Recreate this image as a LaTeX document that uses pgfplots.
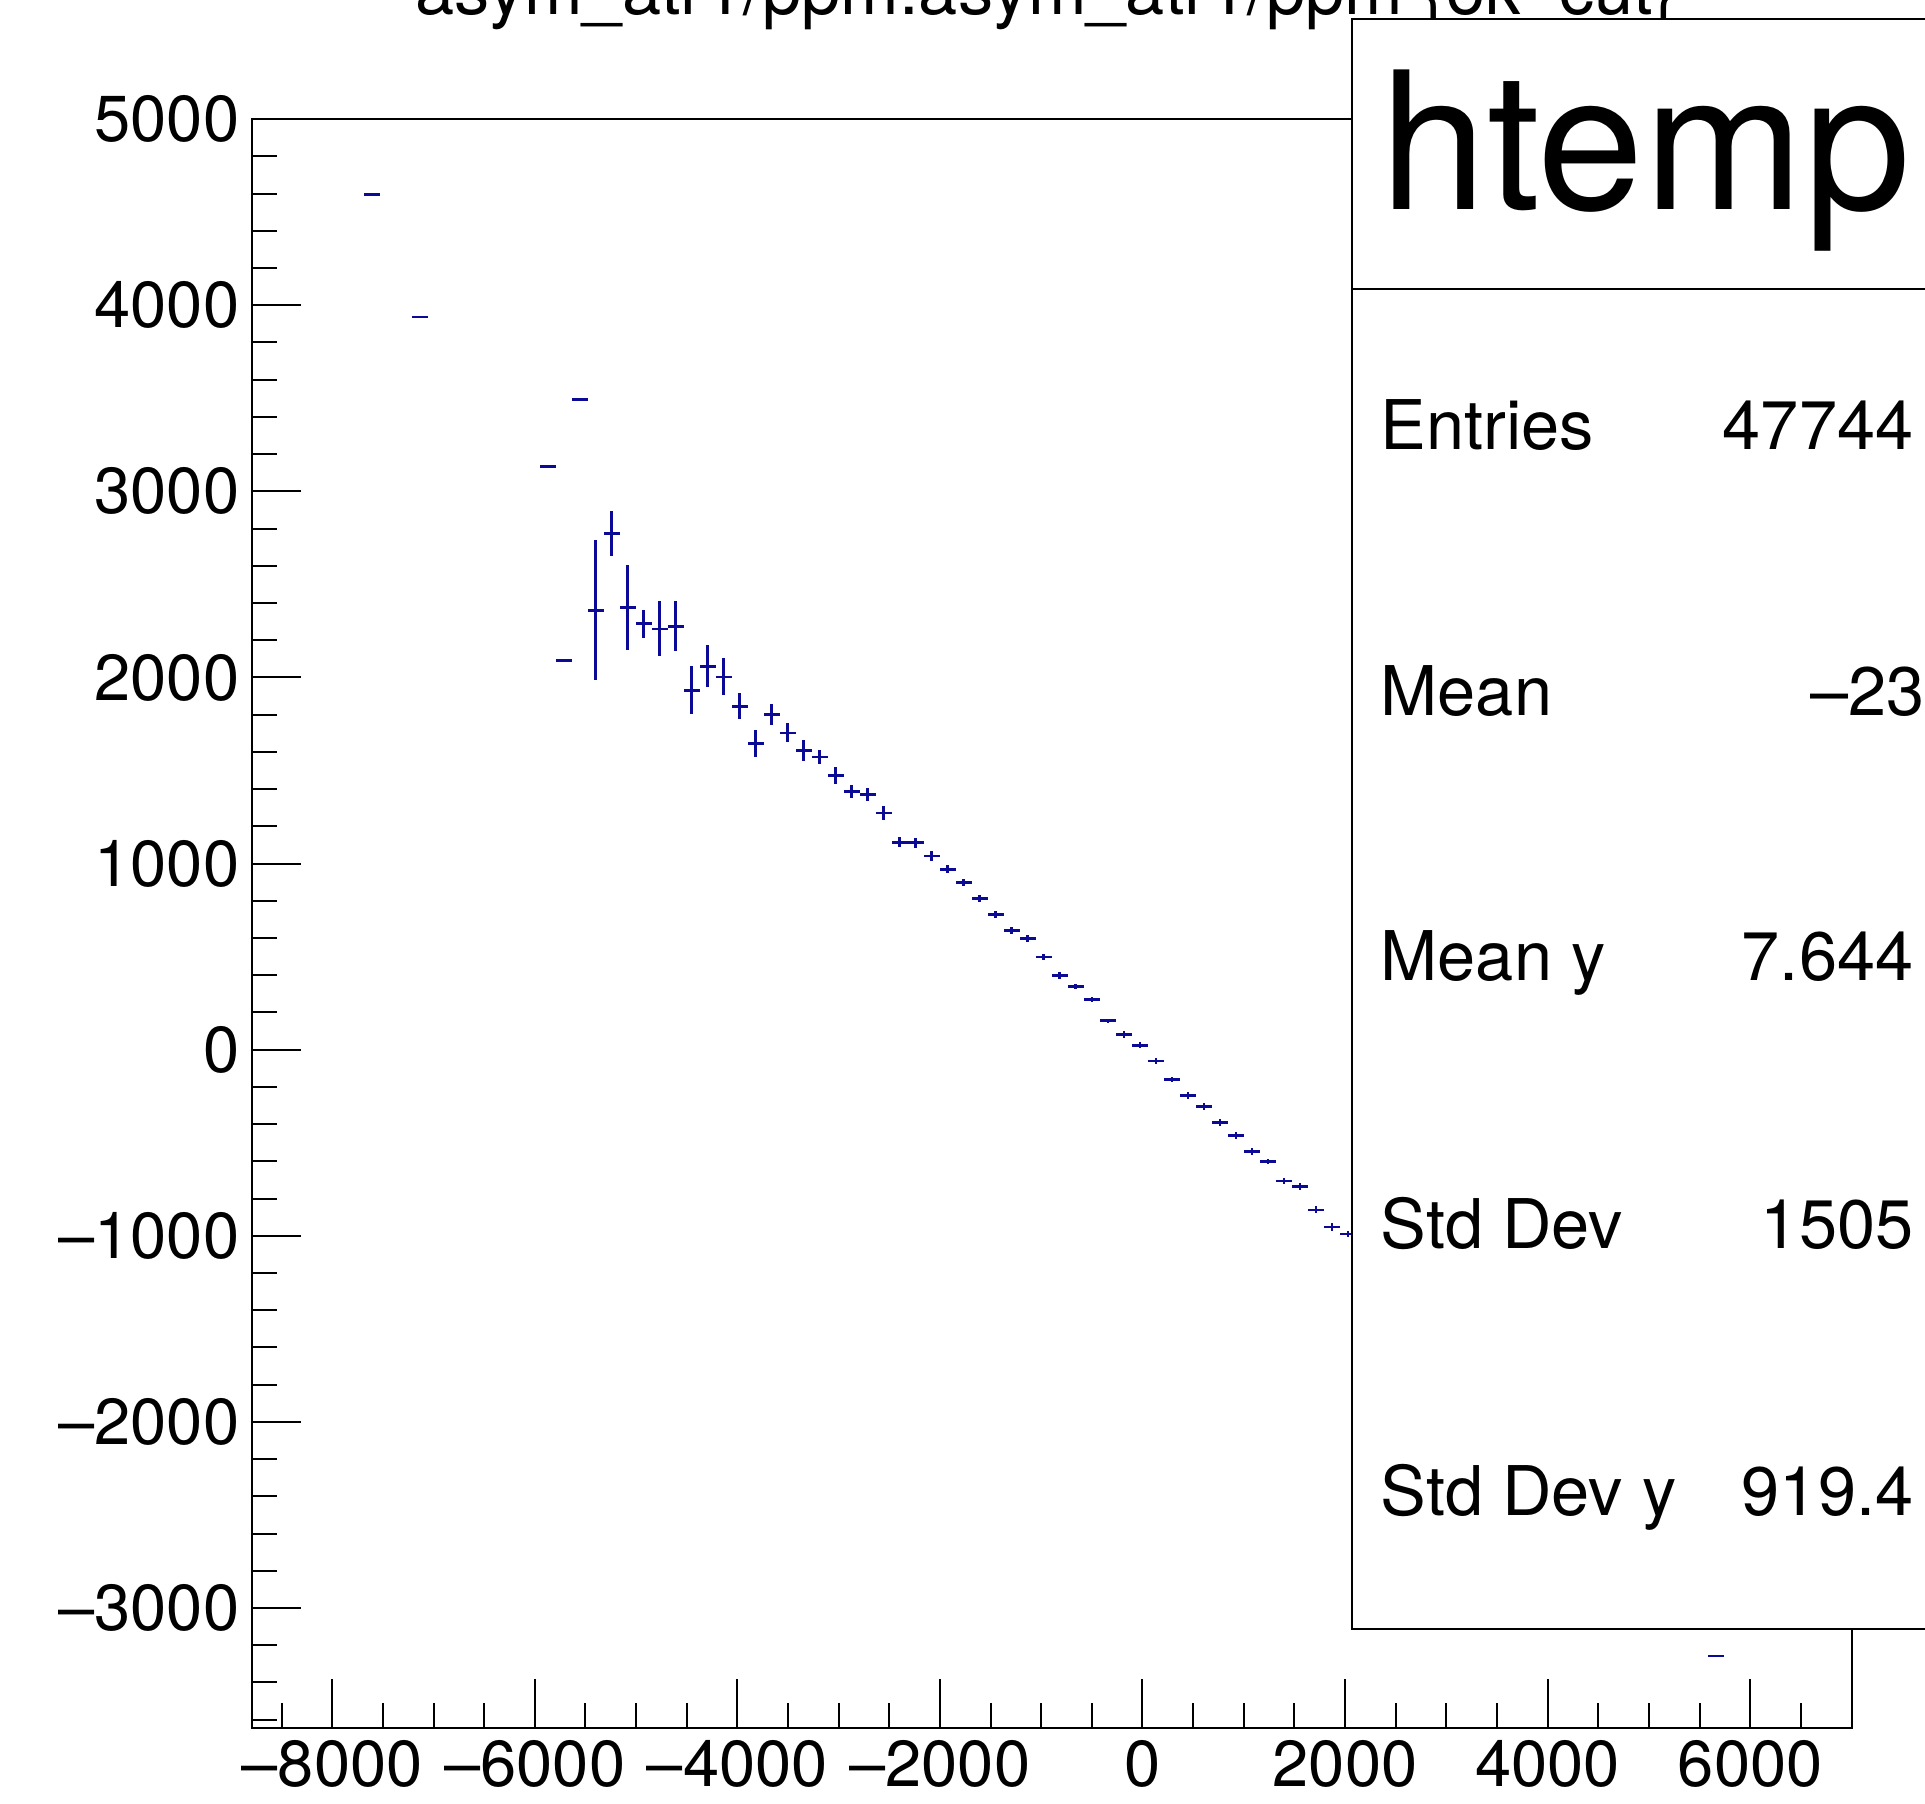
\documentclass[border=0pt]{standalone}
\usepackage{fontspec}
\setmainfont{TeX Gyre Heros}
\usepackage{pgfplots}
\usepackage{pgfplotstable}
\pgfplotsset{compat=1.18}

\definecolor{rootblue}{RGB}{10,10,150}

% profile of asym_atr1 vs asym_atr1: x = bin centre, ex = half bin, y = mean, ey = error
\pgfplotstableread{
x ex y ey
-7610 79 4596 0
-7136 79 3937 0
-5872 79 3135 0
-5714 79 2090 0
-5556 79 3493 0
-5398 79 2361 376
-5240 79 2775 120
-5082 79 2375 228
-4924 79 2289 76
-4766 79 2261 148
-4608 79 2275 134
-4450 79 1931 128
-4292 79 2060 114
-4134 79 2003 100
-3976 79 1845 70
-3818 79 1644 71
-3660 79 1802 57
-3502 79 1702 51
-3344 79 1607 56
-3186 79 1573 36
-3028 79 1472 47
-2870 79 1386 36
-2712 79 1372 36
-2554 79 1272 36
-2396 79 1114 27
-2238 79 1112 27
-2080 79 1041 25
-1922 79 969 21
-1764 79 897 20
-1606 79 811 20
-1448 79 725 18
-1290 79 642 18
-1132 79 596 18
-974 79 498 18
-816 79 398 18
-658 79 339 13
-500 79 269 13
-342 79 156 11
-184 79 83 18
-26 79 24 16
132 79 -61 18
290 79 -161 13
448 79 -245 18
606 79 -304 18
764 79 -390 18
922 79 -462 18
1080 79 -546 18
1238 79 -602 13
1396 79 -706 18
1554 79 -734 18
1712 79 -861 19
1870 79 -953 20
2028 79 -990 17
5662 79 -3258 0
}\prof

\begin{document}
\begin{tikzpicture}
\useasboundingbox (0,0) rectangle (19.25cm,-18.04cm);
\clip (0,0) rectangle (19.25cm,-18.04cm);

\begin{axis}[
    at={(2.517cm,-17.277cm)}, anchor=south west,
    scale only axis, width=16.003cm, height=16.086cm,
    xmin=-8795, xmax=7005, ymin=-3643, ymax=5000,
    scaled ticks=false,
    xtick={-8000,-6000,...,6000},
    xticklabels={\mbox{--8000},\mbox{--6000},\mbox{--4000},\mbox{--2000},0,2000,4000,6000},
    minor xtick={-8500,-8000,...,6500},
    ytick={-3000,-2000,...,5000},
    yticklabels={\mbox{--3000},\mbox{--2000},\mbox{--1000},0,1000,2000,3000,4000,5000},
    minor ytick={-3600,-3400,...,4800},
    xtick pos=bottom, ytick pos=left, tick align=inside,
    major tick length=0.49cm, minor tick length=0.25cm,
    every tick/.append style={line width=0.02cm, black},
    axis line style={line width=0.02cm},
    ticklabel style={font=\fontsize{18.5}{20}\selectfont},
]
\addplot[draw=none, mark=none,
    error bars/.cd,
        x dir=both, x explicit,
        y dir=both, y explicit,
        error mark=none,
        error bar style={line width=0.027cm, draw=rootblue}]
    table[x=x, y=y, x error=ex, y error=ey] {\prof};
\end{axis}

% title (cut by the top edge)
\node[anchor=base, inner sep=0, font=\fontsize{20}{22}\selectfont]
    at (10.46cm,-0.145cm) {asym\_atr1/ppm:asym\_atr1/ppm \{ok\_cut\}};

% stats box
\draw[line width=0.02cm, fill=white] (13.52cm,-0.19cm) rectangle (21cm,-16.29cm);
\draw[line width=0.02cm] (13.52cm,-2.885cm) -- (21cm,-2.885cm);
\node[anchor=base west, inner sep=0, font=\fontsize{54.5}{58}\selectfont]
    at (13.80cm,-2.09cm) {htemp};
\begin{scope}[every node/.style={inner sep=0, font=\fontsize{19.5}{21}\selectfont}]
\node[anchor=base west] at (13.80cm,-4.49cm) {Entries};
\node[anchor=base east] at (19.14cm,-4.49cm) {47744};
\node[anchor=base west] at (13.80cm,-7.15cm) {Mean};
\node[anchor=base west] at (18.10cm,-7.15cm) {--23};
\node[anchor=base west] at (13.80cm,-9.80cm) {Mean y};
\node[anchor=base east] at (19.14cm,-9.80cm) {7.644};
\node[anchor=base west] at (13.80cm,-12.48cm) {Std Dev};
\node[anchor=base east] at (19.14cm,-12.48cm) {1505};
\node[anchor=base west] at (13.80cm,-15.15cm) {Std Dev y};
\node[anchor=base east] at (19.14cm,-15.15cm) {919.4};
\end{scope}
\end{tikzpicture}
\end{document}
